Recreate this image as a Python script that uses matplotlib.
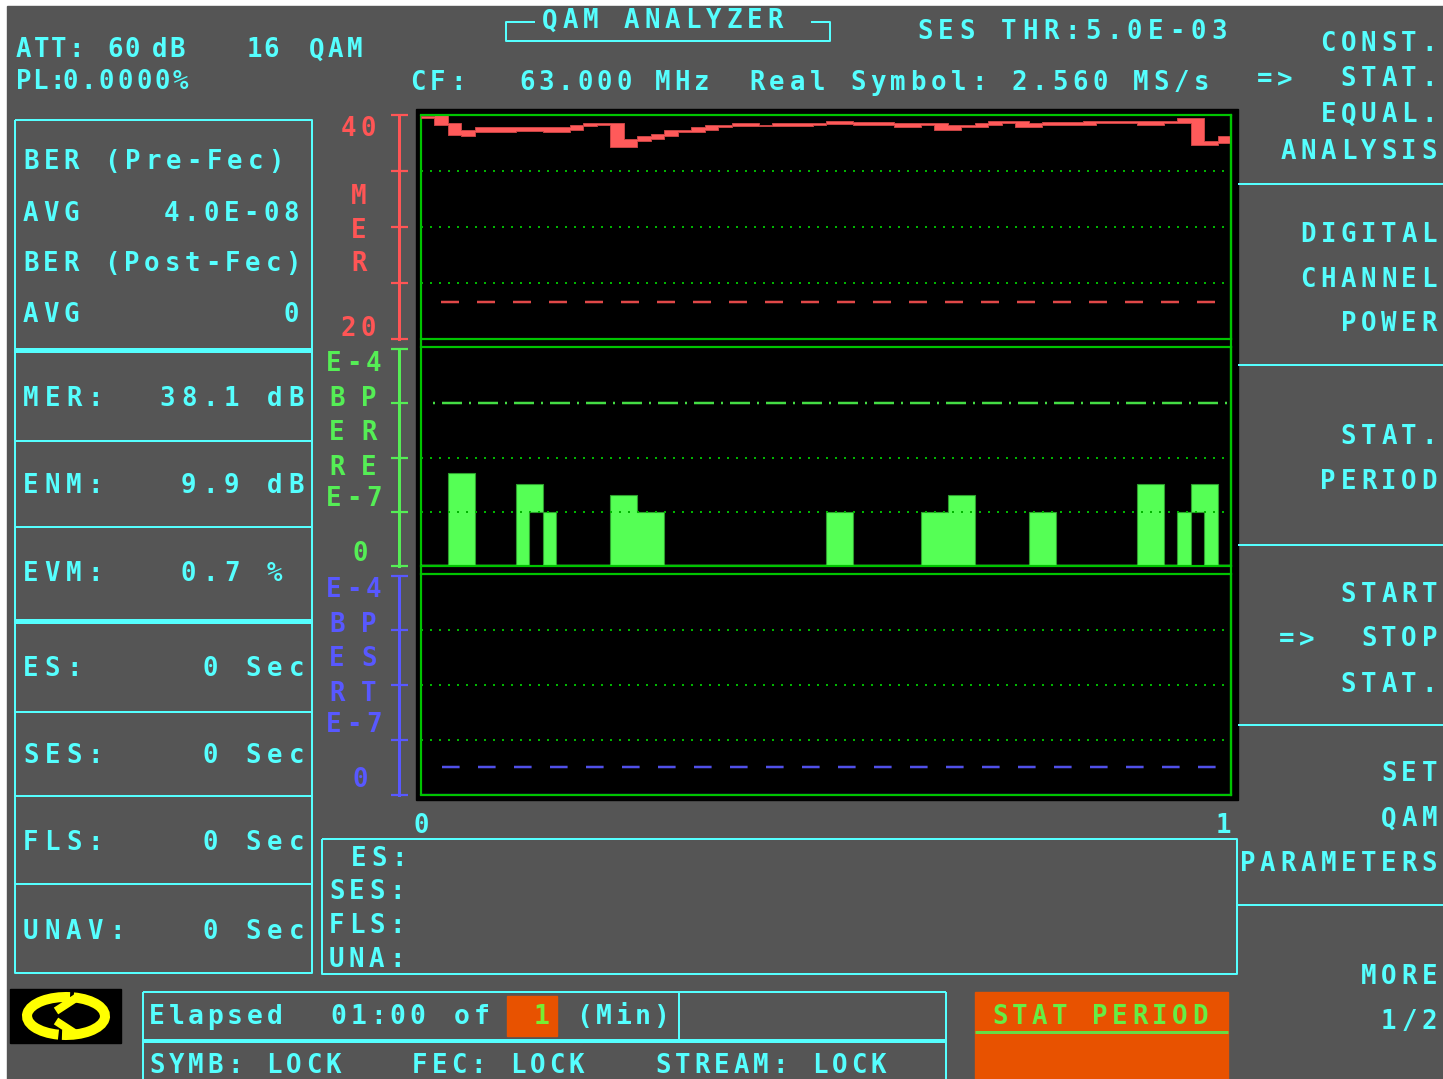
import numpy as np
import matplotlib
matplotlib.use("Agg")
import matplotlib.pyplot as plt
from matplotlib.patches import Rectangle, Arc

plt.rcParams["lines.scale_dashes"] = False

# ---------------------------------------------------------------- data
# one-second bins over a one-minute statistics period (x axis in minutes)
SECONDS = np.arange(61)
TIME_EDGES = SECONDS / 60.0

# MER per second: max and min within each bin (dB)
mer_hi = [39.9, 40.0, 39.3, 38.7, 38.9, 38.9, 38.9, 38.9, 38.9, 38.9,
          38.9, 39.1, 39.3, 39.3, 39.3, 37.9, 38.1, 38.3, 38.7, 38.7,
          38.9, 39.1, 39.1, 39.3, 39.3, 39.15, 39.3, 39.3, 39.3, 39.3,
          39.5, 39.5, 39.4, 39.4, 39.4, 39.3, 39.3, 39.3, 39.3, 39.1,
          39.1, 39.3, 39.5, 39.5, 39.5, 39.3, 39.4, 39.4, 39.4, 39.5,
          39.5, 39.5, 39.5, 39.5, 39.5, 39.5, 39.7, 39.7, 37.7, 38.1]
mer_lo = [39.7, 39.1, 38.2, 38.1, 38.5, 38.5, 38.5, 38.6, 38.6, 38.5,
          38.5, 38.7, 39.0, 39.1, 37.1, 37.1, 37.7, 37.9, 38.1, 38.5,
          38.5, 38.7, 38.9, 39.0, 39.0, 39.0, 39.0, 39.0, 39.0, 39.1,
          39.2, 39.2, 39.1, 39.1, 39.1, 38.9, 38.9, 39.1, 38.7, 38.7,
          38.9, 38.9, 39.1, 39.3, 38.9, 38.9, 39.1, 39.1, 39.1, 39.1,
          39.3, 39.3, 39.3, 39.1, 39.1, 39.3, 39.3, 37.3, 37.3, 37.5]
MER_TICKS = [20, 25, 30, 35, 40]
MER_GRID = [25, 30, 35]
MER_THRESHOLD = 23.3
MER_THR_SPAN = (0.0247, 0.980)

# BER pre-FEC per second: max and min within each bin
ber_pre_hi = [0] * 60
ber_pre_lo = [0] * 60
for b, v in {2: 5.2e-7, 3: 5.2e-7, 7: 3.2e-7, 8: 3.2e-7, 9: 1e-7,
             14: 2e-7, 15: 2e-7, 16: 1e-7, 17: 1e-7, 30: 1e-7, 31: 1e-7,
             37: 1e-7, 38: 1e-7, 39: 2e-7, 40: 2e-7, 45: 1e-7, 46: 1e-7,
             53: 3.2e-7, 54: 3.2e-7, 56: 1e-7, 57: 3.2e-7, 58: 3.2e-7}.items():
    ber_pre_hi[b] = v
ber_pre_lo[8] = 1e-7
ber_pre_lo[57] = 1e-7
ber_pre_hi = np.array(ber_pre_hi, dtype=float)
ber_pre_lo = np.array(ber_pre_lo, dtype=float)

# BER post-FEC per second
ber_post = np.zeros(60)

BER_TICKS = [1e-8, 1e-7, 1e-6, 1e-5, 1e-4]
BER_PRE_GRID = [1e-7, 1e-6]
BER_PRE_THRESHOLD = 1e-5
BER_PRE_THR_SPAN = (0.0144, 0.996)
BER_POST_GRID = [1e-7, 1e-6, 1e-5]
BER_POST_THRESHOLD = 3.2e-8
BER_POST_THR_SPAN = (0.026, 0.982)

# ---------------------------------------------------------------- style
W, H = 1443, 1079
PX = 0.72  # points per pixel at 100 dpi
CYAN = "#55FFFF"
GRAY = "#555555"
RED = "#FF5555"
GREEN_AX = "#55EE55"
BAR_G = "#55FF55"
BLUE = "#5858FF"
FRAME_G = "#00C400"
GRID_G = "#00B400"
ORANGE = "#E85200"
MONO = "DejaVu Sans Mono"
FS = 18.5

fig = plt.figure(figsize=(W / 100, H / 100), dpi=100, facecolor="white")
ov = fig.add_axes([0, 0, 1, 1])
ov.set_xlim(0, W)
ov.set_ylim(H, 0)
ov.axis("off")


def put(x, y, s, pitch=20.0, color=CYAN, size=FS, right=False, weight="bold"):
    """Fixed-pitch screen text; x = left edge of first glyph (or right edge of last)."""
    gw = 13.5
    if right:
        x = x - gw - (len(s) - 1) * pitch
    cap = size * 100 / 72 * 0.729
    for i, ch in enumerate(s):
        if ch == " ":
            continue
        ov.text(x + gw / 2 + i * pitch, y + cap / 2, ch, ha="center", va="baseline",
                color=color, fontsize=size, fontweight=weight, family=MONO)


def line(xs, ys, color=CYAN, lw=2.0):
    ov.plot(xs, ys, color=color, lw=lw * PX, solid_capstyle="butt")


def box(x0, y0, x1, y1, color=CYAN, lw=2.0):
    line([x0, x1, x1, x0, x0], [y0, y0, y1, y1, y0], color, lw)


# screen background and plot area
ov.add_patch(Rectangle((7, 6), W - 7, H - 6, color=GRAY, zorder=0))
ov.add_patch(Rectangle((416, 109), 822, 691, color="black", zorder=0.5))
line([421, 421], [115, 795], FRAME_G, 2.2)
line([1231, 1231], [115, 795], FRAME_G, 2.2)

# ---------------------------------------------------------------- header
put(17, 48, "ATT:", pitch=17.5)
put(108, 48, "60", pitch=17.5)
put(153, 48, "dB", pitch=17)
put(248, 48, "16", pitch=16)
put(310, 48, "QAM", pitch=19)
put(17, 80, "PL:", pitch=16.5)
put(63, 80, "0.0000%", pitch=18.5)

line([535, 506, 506, 830, 830, 811], [22, 22, 41, 41, 22, 22])
put(543, 19, "QAM ANALYZER", pitch=20.5)
put(918, 30, "SES THR:5.0E-03", pitch=21)
put(411, 81, "CF:", pitch=20)
put(520, 81, "63.000 MHz", pitch=19.4)
put(750, 81, "Real Symbol: 2.560 MS/s", pitch=20.2)

# ---------------------------------------------------------------- left panel
box(15, 120, 312, 973)
line([15, 312], [350, 350], lw=5)
line([15, 312], [621, 621], lw=5)
for yy in [441, 527, 711.5, 796, 884]:
    line([15, 312], [yy, yy])

put(24, 160, "BER (Pre-Fec)", pitch=20.4)
put(24, 212, "AVG", pitch=20.4)
put(298, 212, "4.0E-08", pitch=20, right=True)
put(24, 262, "BER (Post-Fec)", pitch=20.2)
put(24, 313, "AVG", pitch=20.4)
put(298, 313, "0", right=True)

put(24, 397, "MER:", pitch=21.5)
put(303, 397, "38.1 dB", pitch=21.5, right=True)
put(24, 484, "ENM:", pitch=21.5)
put(303, 484, "9.9 dB", pitch=21.5, right=True)
put(24, 572, "EVM:", pitch=21.5)
put(182, 572, "0.7 %", pitch=21.5)
for yy, lab in [(667, "ES:"), (754, "SES:"), (841, "FLS:"), (930, "UNAV:")]:
    put(24, yy, lab, pitch=21.5)
    put(303, yy, "0 Sec", pitch=21.5, right=True)

# ---------------------------------------------------------------- right menu
for yy in [184, 365, 545, 725, 905]:
    line([1238, W], [yy, yy])
menu = [(42, "CONST."), (77, "STAT."), (113, "EQUAL."), (150, "ANALYSIS"),
        (233, "DIGITAL"), (278, "CHANNEL"), (322, "POWER"),
        (435, "STAT."), (480, "PERIOD"),
        (593, "START"), (637, "STOP"), (683, "STAT."),
        (772, "SET"), (817, "QAM"), (862, "PARAMETERS"),
        (975, "MORE"), (1020, "1/2")]
for yy, lab in menu:
    put(1436, yy, lab, pitch=20.2, right=True)
put(1258, 77, "=>", pitch=20)
put(1280, 637, "=>", pitch=20)

# ---------------------------------------------------------------- event box
box(322, 839, 1237, 974)
put(352, 857, "ES:")
put(330, 890, "SES:")
put(330, 924, "FLS:")
put(330, 958, "UNA:")

# ---------------------------------------------------------------- status bar
ov.add_patch(Rectangle((10, 989), 111, 54, color="black", zorder=1))
for t1, t2 in [(112, 282), (292, 462)]:
    ov.add_patch(Arc((66, 1016), 78, 38, theta1=t1, theta2=t2,
                     color="#FFFF00", lw=10 * PX, zorder=2))
line([76, 56], [998, 1011], "#FFFF00", 8)
line([56, 76], [1021, 1034], "#FFFF00", 8)

line([143, 946], [992, 992])
line([143, 143], [992, H])
line([946, 946], [992, H])
line([679, 679], [992, 1041])
line([143, 946], [1041, 1041], lw=4)
ov.add_patch(Rectangle((507, 996), 50, 40, color=ORANGE, zorder=1))
put(150, 1014, "Elapsed", pitch=19.6, size=19)
put(332, 1014, "01:00", pitch=19.6, size=19)
put(455, 1014, "of", pitch=19.6, size=19)
put(535, 1014, "1", color="#77EE33", size=19)
put(577, 1014, "(Min)", pitch=19.6, size=19)
put(150, 1064, "SYMB: LOCK", pitch=19.6)
put(413, 1064, "FEC: LOCK", pitch=19.6)
put(656, 1064, "STREAM: LOCK", pitch=19.6)

ov.add_patch(Rectangle((975, 992), 253, H - 992, color=ORANGE, zorder=1))
line([975, 1228], [1032, 1032], "#66DD44", 3)
put(993, 1015, "STAT PERIOD", pitch=20, color="#66EE44")

# ---------------------------------------------------------------- axis captions
put(342, 127, "40", color=RED)
put(352, 195, "M", color=RED)
put(352, 229, "E", color=RED)
put(352, 262, "R", color=RED)
put(342, 327, "20", color=RED)
for col, words, base in [(GREEN_AX, ["B P", "E R", "R E"], 0), (BLUE, ["B P", "E S", "R T"], 226)]:
    put(327, 362 + base, "E-4", color=col)
    for k, w in enumerate(words):
        put(330, [397, 431, 466][k] + base, w, pitch=16, color=col)
    put(327, 497 + base, "E-7", color=col)
    put(354, 552 + base, "0", color=col)


# ---------------------------------------------------------------- plot panels
def panel(y0, y1):
    return fig.add_axes([421 / W, 1 - y1 / H, 810 / W, (y1 - y0) / H], zorder=2)


def style(ax, col, bounds, ticks):
    ax.set_facecolor("none")
    ax.set_xlim(0, 1)
    for s in ["top", "bottom", "right"]:
        ax.spines[s].set_color(FRAME_G)
        ax.spines[s].set_linewidth(2.2 * PX)
    sp = ax.spines["left"]
    sp.set_position(("outward", 22.3 * PX))
    sp.set_color(col)
    sp.set_linewidth(3 * PX)
    sp.set_bounds(*bounds)
    ax.set_yticks(ticks)
    ax.yaxis.set_minor_locator(matplotlib.ticker.NullLocator())
    ax.tick_params(axis="y", which="major", direction="inout", length=17 * PX,
                   width=2.2 * PX, color=col, labelleft=False)
    ax.set_xticks([])


def dotted(ax, levels):
    for v in levels:
        ax.axhline(v, color=GRID_G, lw=2 * PX, linestyle=(0, (2 * PX, 7 * PX)))


def fwd(v):
    return np.log10(np.maximum(v, 1e-8)) + 8


def inv(p):
    return 10.0 ** (np.asarray(p) - 8)


# MER panel
ax1 = panel(115, 339)
ax1.set_ylim(20, 40)
style(ax1, RED, (20, 40), MER_TICKS)
dotted(ax1, MER_GRID)
ax1.hlines(MER_THRESHOLD, *MER_THR_SPAN, color="#E04848", lw=2.5 * PX,
           linestyle=(0, (18 * PX, 18 * PX)))
ax1.stairs(mer_hi, TIME_EDGES, baseline=mer_lo, fill=True,
           facecolor="#FF5A5A", edgecolor="#C84444", lw=0.7)

# BER pre-FEC panel
ax2 = panel(346.7, 566)
ax2.set_yscale("function", functions=(fwd, inv))
ax2.set_ylim(float(inv(-0.0316)), float(inv(4.0427)))
style(ax2, GREEN_AX, (BER_TICKS[0], BER_TICKS[-1]), BER_TICKS)
dotted(ax2, BER_PRE_GRID)
ax2.hlines(BER_PRE_THRESHOLD, *BER_PRE_THR_SPAN, color="#44DD44", lw=2.5 * PX,
           linestyle=(0, (2 * PX, 7 * PX, 20 * PX, 7 * PX)))
ax2.stairs(ber_pre_hi, TIME_EDGES, baseline=ber_pre_lo, fill=True,
           facecolor=BAR_G, edgecolor="#2E9E2E", lw=0.8)
flat = ber_pre_lo == 0
ax2.hlines(ber_pre_lo[flat], TIME_EDGES[:-1][flat], TIME_EDGES[1:][flat],
           color=BAR_G, lw=2.5 * PX)

# BER post-FEC panel
ax3 = panel(573.5, 794.5)
ax3.set_yscale("function", functions=(fwd, inv))
ax3.set_ylim(float(inv(-0.0406)), float(inv(4.0406)))
style(ax3, BLUE, (BER_TICKS[0], BER_TICKS[-1]), BER_TICKS)
dotted(ax3, BER_POST_GRID)
ax3.hlines(BER_POST_THRESHOLD, *BER_POST_THR_SPAN, color="#5050E8", lw=2.5 * PX,
           linestyle=(0, (17.6 * PX, 18.4 * PX)))
ax3.stairs(ber_post, TIME_EDGES, color=BLUE, lw=2.2 * PX)
ax3.set_xticks([0, 1])
ax3.set_xticklabels(["0", "1"], color=CYAN, fontsize=FS, fontweight="bold", family=MONO)
ax3.get_xticklabels()[-1].set_ha("right")
ax3.tick_params(axis="x", length=0, pad=13)

fig.savefig("out.png", dpi=100, facecolor="white")
